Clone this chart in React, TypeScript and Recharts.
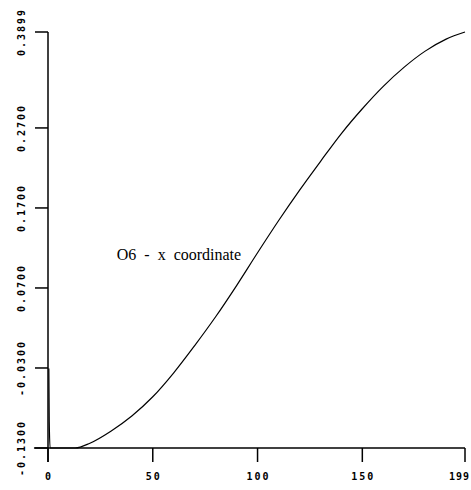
import { LineChart, Line, XAxis, YAxis, ReferenceLine, ReferenceDot } from 'recharts';

// O6 x coordinate over frames
const FRAMES = [0.4, 0.6, 1, 13, 20, 30, 40, 50, 60, 70, 80, 90, 100, 110, 120, 130, 140, 150, 160, 170, 180, 190, 199];
const X_COORD = [
  -0.0305, -0.0975, -0.13, -0.13, -0.124, -0.109, -0.09, -0.066, -0.036, -0.002, 0.034, 0.073, 0.114,
  0.154, 0.192, 0.228, 0.263, 0.294, 0.322, 0.346, 0.366, 0.381, 0.3899,
];

const X_TICKS = [0, 50, 100, 150, 199];
const Y_TICKS = [-0.13, -0.03, 0.07, 0.17, 0.27, 0.3899];
const Y_LABELS = ['-0.1300', '-0.0300', '0.0700', '0.1700', '0.2700', '0.3899'];

const data = FRAMES.map((f, i) => ({ frame: f, x: X_COORD[i] }));

const MONO = '"DejaVu Sans Mono", monospace';

function YTick({ y, payload }: any) {
  const idx = Y_TICKS.indexOf(payload.value);
  return (
    <text
      transform={`translate(21, ${y}) rotate(-90)`}
      textAnchor="middle"
      dominantBaseline="central"
      fontFamily={MONO}
      fontWeight="bold"
      fontSize={10}
      letterSpacing={2}
      fill="#000"
    >
      {Y_LABELS[idx] ?? payload.value}
    </text>
  );
}

function XTick({ x, payload }: any) {
  const last = payload.value === X_TICKS[X_TICKS.length - 1];
  return (
    <text
      x={last ? 470 : x + 1}
      y={476}
      textAnchor={last ? 'end' : 'middle'}
      dominantBaseline="central"
      fontFamily={MONO}
      fontWeight="bold"
      fontSize={10}
      letterSpacing={last ? 1 : 2}
      fill="#000"
    >
      {payload.value}
    </text>
  );
}

function CurveLabel({ viewBox }: any) {
  return (
    <text
      x={viewBox.x}
      y={viewBox.y}
      textAnchor="middle"
      dominantBaseline="central"
      fontFamily='"Liberation Serif", serif'
      fill="#000"
    >
      <tspan fontSize={16} wordSpacing={4}>O6 - x</tspan>
      <tspan fontSize={16} dx={8}>coordinate</tspan>
    </text>
  );
}

export default function App() {
  return (
    <div style={{ position: 'absolute', left: 0, top: 0, width: 471, height: 490, background: '#fff' }}>
      <LineChart width={471} height={490} data={data} margin={{ top: 32, right: 6, left: 0, bottom: 0 }}>
        <XAxis
          type="number"
          dataKey="frame"
          domain={[0, 199]}
          ticks={X_TICKS}
          height={42}
          axisLine={false}
          tickSize={14}
          tickLine={{ stroke: '#000', strokeWidth: 1.5 }}
          tick={<XTick />}
          interval={0}
        />
        <YAxis
          type="number"
          domain={[-0.13, 0.3899]}
          ticks={Y_TICKS}
          width={48}
          axisLine={false}
          tickSize={13}
          tickLine={{ stroke: '#000', strokeWidth: 1.5 }}
          tick={<YTick />}
          interval={0}
        />
        <ReferenceLine
          segment={[{ x: -6.7, y: -0.13 }, { x: 199, y: -0.13 }]}
          stroke="#000"
          strokeWidth={1.5}
          ifOverflow="visible"
        />
        <ReferenceLine
          segment={[{ x: 0, y: -0.1475 }, { x: 0, y: 0.3899 }]}
          stroke="#000"
          strokeWidth={1.5}
          ifOverflow="visible"
        />
        <Line
          type="monotone"
          dataKey="x"
          stroke="#000"
          strokeWidth={1.2}
          dot={false}
          isAnimationActive={false}
        />
        <ReferenceDot x={62.5} y={0.112} r={0} ifOverflow="visible" label={<CurveLabel />} />
      </LineChart>
    </div>
  );
}
